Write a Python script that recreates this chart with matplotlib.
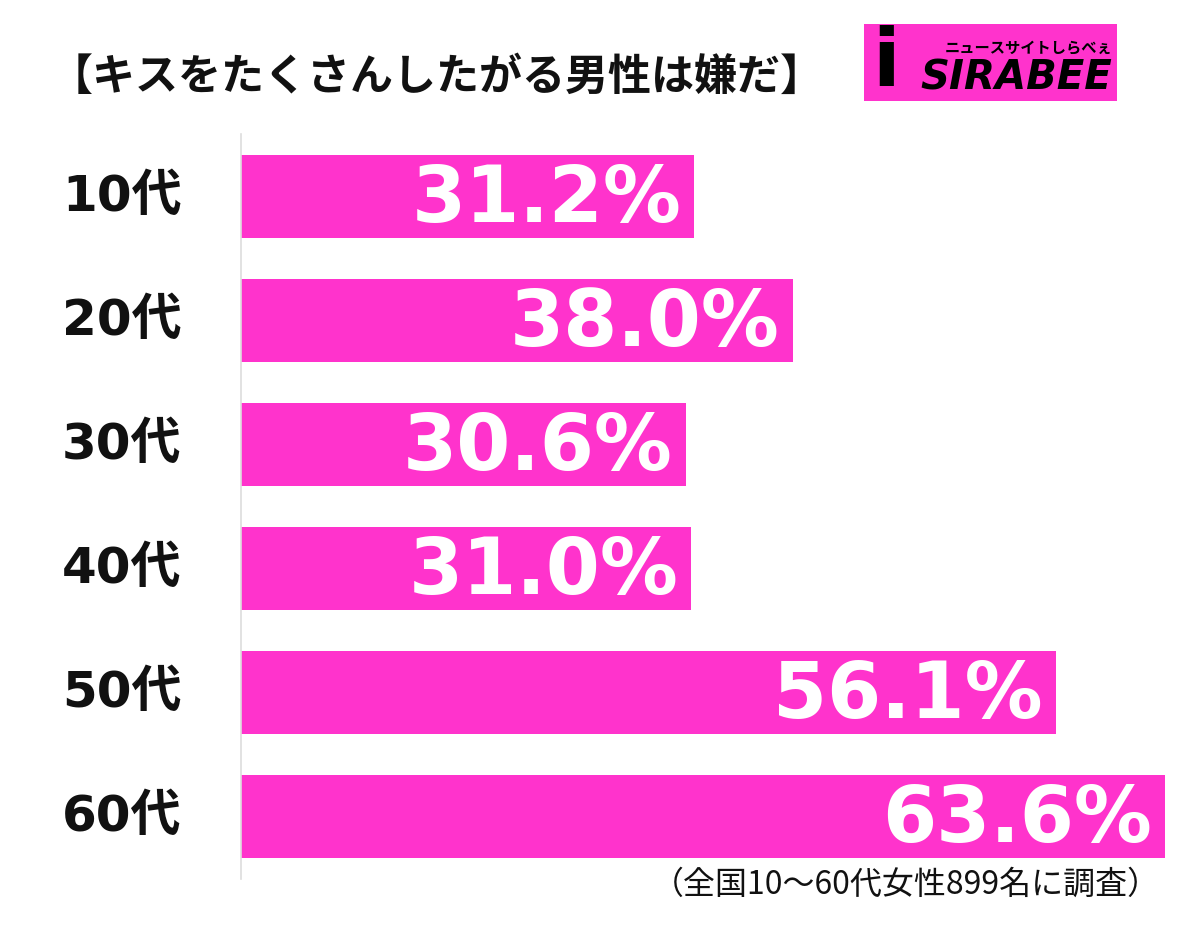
import matplotlib
matplotlib.use("Agg")
import matplotlib.pyplot as plt
from matplotlib.patches import Rectangle

categories = ["10代", "20代", "30代", "40代", "50代", "60代"]
values = [31.2, 38.0, 30.6, 31.0, 56.1, 63.6]
title = "【キスをたくさんしたがる男性は嫌だ】"
footnote = "（全国10～60代女性899名に調査）"

FAM = ["Noto Sans CJK JP", "DejaVu Sans"]
LABFAM = ["DejaVu Sans", "Noto Sans CJK JP"]
plt.rcParams["font.family"] = FAM
PINK = "#FF33CC"

W, H = 1200, 930
fig = plt.figure(figsize=(W / 100, H / 100), dpi=100)
fig.patch.set_facecolor("white")

ax_left, ax_right = 241 / W, 1165 / W
ax_top, ax_bot = 1 - 134.5 / H, 1 - 878.5 / H
ax = fig.add_axes([ax_left, ax_bot, ax_right - ax_left, ax_top - ax_bot])

y = list(range(len(categories)))
ax.barh(y, values, height=83 / 124, color=PINK)
ax.set_xlim(0, max(values))
ax.set_ylim(len(categories) - 0.5, -0.5)

for s in ["top", "right", "bottom"]:
    ax.spines[s].set_visible(False)
ax.spines["left"].set_color("#dddddd")
ax.spines["left"].set_linewidth(1.2)
ax.set_xticks([])
ax.set_yticks([])

xlab = -(241 - 62) / (1165 - 241) * max(values)
for yi, c in zip(y, categories):
    ax.text(xlab, yi, c, fontsize=36, fontweight="bold", color="#111111",
            ha="left", va="center", family=LABFAM)

for yi, v in zip(y, values):
    ax.text(v - 0.9, yi + 0.03, f"{v:.1f}%", color="white", fontsize=56,
            fontweight="bold", ha="right", va="center", family=["DejaVu Sans"])

fig.text(50 / W, 1 - 77 / H, title, fontsize=31, fontweight="bold",
         color="#111111", ha="left", va="center", family=FAM)

fig.text(1160 / W, 1 - 885 / H, footnote, fontsize=23, color="#111111",
         ha="right", va="center", family=FAM)

# logo
lx0, ly0, lx1, ly1 = 864, 24, 1117, 101
fig.patches.append(Rectangle((lx0 / W, 1 - ly1 / H), (lx1 - lx0) / W, (ly1 - ly0) / H,
                             transform=fig.transFigure, facecolor=PINK, edgecolor="none"))
fig.text(872 / W, 1 - 64 / H, "i", fontsize=58, fontweight="bold", color="black",
         ha="left", va="center", family=["DejaVu Sans"])
fig.text(1112 / W, 1 - 79 / H, "SIRABEE", fontsize=29, fontweight="bold", style="italic",
         color="black", ha="right", va="center", family=["DejaVu Sans"])
fig.text(1112 / W, 1 - 47 / H, "ニュースサイトしらべぇ", fontsize=11, fontweight="bold",
         color="black", ha="right", va="center", family=FAM)

fig.savefig("out.png", dpi=100, facecolor="white")
